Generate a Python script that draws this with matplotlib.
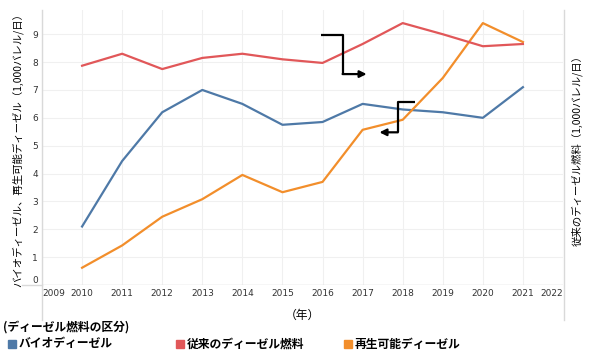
import matplotlib.pyplot as plt
from matplotlib.lines import Line2D

plt.rcParams['font.family'] = ['Noto Sans CJK JP', 'DejaVu Sans']

# data (1,000 barrels/day)
years = [2010, 2011, 2012, 2013, 2014, 2015, 2016, 2017, 2018, 2019, 2020, 2021]
biodiesel = [2.1, 4.45, 6.2, 7.0, 6.5, 5.75, 5.85, 6.5, 6.3, 6.2, 6.0, 7.1]
conventional = [7.87, 8.3, 7.75, 8.15, 8.3, 8.1, 7.97, 8.65, 9.4, 9.0, 8.57, 8.65]
renewable = [0.62, 1.42, 2.45, 3.08, 3.95, 3.33, 3.7, 5.57, 5.93, 7.43, 9.4, 8.72]

xticks = list(range(2009, 2023))
yticks = list(range(0, 10))

series_names = ['バイオディーゼル', '従来のディーゼル燃料', '再生可能ディーゼル']
colors = ['#4e79a7', '#e15759', '#f28e2b']

# bent arrows drawn on the chart (year, value)
arrow_red = [(2015.95, 8.97), (2016.5, 8.97), (2016.5, 7.57), (2017.1, 7.57)]
arrow_orange = [(2018.3, 6.57), (2017.88, 6.57), (2017.88, 5.48), (2017.42, 5.48)]

fig = plt.figure(figsize=(5.98, 3.57), dpi=100)
ax = fig.add_axes([42 / 598, 1 - 285 / 357, (563 - 42) / 598, (285 - 10) / 357])
ax2 = ax.twinx()

ax.plot(years, biodiesel, color=colors[0], lw=1.6)
ax.plot(years, renewable, color=colors[2], lw=1.6)
ax2.plot(years, conventional, color=colors[1], lw=1.6)

for a in (ax, ax2):
    a.set_xlim(2009, 2022)
    a.set_ylim(0, 9.87)
    for s in a.spines.values():
        s.set_visible(False)

ax2.set_yticks([])
ax.set_yticks(yticks)
ax.set_yticklabels([str(v) for v in yticks], fontsize=6.5, color='#333333',
                   family='DejaVu Sans')
ax.get_yticklabels()[0].set_va('bottom')
ax.set_xticks(xticks)
ax.set_xticklabels([str(v) for v in xticks], fontsize=6.5, color='#333333',
                   family='DejaVu Sans')
ax.get_xticklabels()[0].set_ha('left')
ax.get_xticklabels()[-1].set_ha('right')
ax.tick_params(length=0, pad=3)
ax.grid(True, color='#f0f0f0', lw=0.8)
ax.set_axisbelow(True)

ax.axhline(0, color='#d9d9d9', lw=1)

# frame lines running past the plot area, as in the reference
for xs, ys in [((42, 42), (10, 320)), ((22, 42), (285, 285)), ((564, 564), (10, 320))]:
    fig.add_artist(Line2D([x / 598 for x in xs], [1 - y / 357 for y in ys],
                          color='#d9d9d9', lw=1))

ax.set_xlabel('（年）', fontsize=8.5, labelpad=8)
ax.set_ylabel('バイオディーゼル、再生可能ディーゼル（1,000バレル/日）', fontsize=7.5,
              labelpad=6)
ax2.set_ylabel('従来のディーゼル燃料（1,000バレル/日）', fontsize=7.5, rotation=90,
               labelpad=6)

for path in (arrow_red, arrow_orange):
    xs = [p[0] for p in path]
    ys = [p[1] for p in path]
    ax2.plot(xs[:-1], ys[:-1], color='black', lw=1.6, solid_capstyle='butt')
    ax2.annotate('', xy=path[-1], xytext=path[-2],
                 arrowprops=dict(arrowstyle='-|>', color='black', lw=1.6,
                                 mutation_scale=10, shrinkA=0, shrinkB=0))

# legend below the chart
fig.text(3 / 598, 1 - 327 / 357, '(ディーゼル燃料の区分)', fontsize=8.5,
         fontweight='bold', va='center')
legend_x = [8, 176, 344]
for x0, name, c in zip(legend_x, series_names, colors):
    fig.patches.append(plt.Rectangle((x0 / 598, 1 - 348 / 357), 8 / 598, 8 / 357,
                                     transform=fig.transFigure, color=c))
    fig.text((x0 + 11) / 598, 1 - 344 / 357, name, fontsize=8.5,
             fontweight='bold', va='center')

fig.savefig('out.png', dpi=100)
